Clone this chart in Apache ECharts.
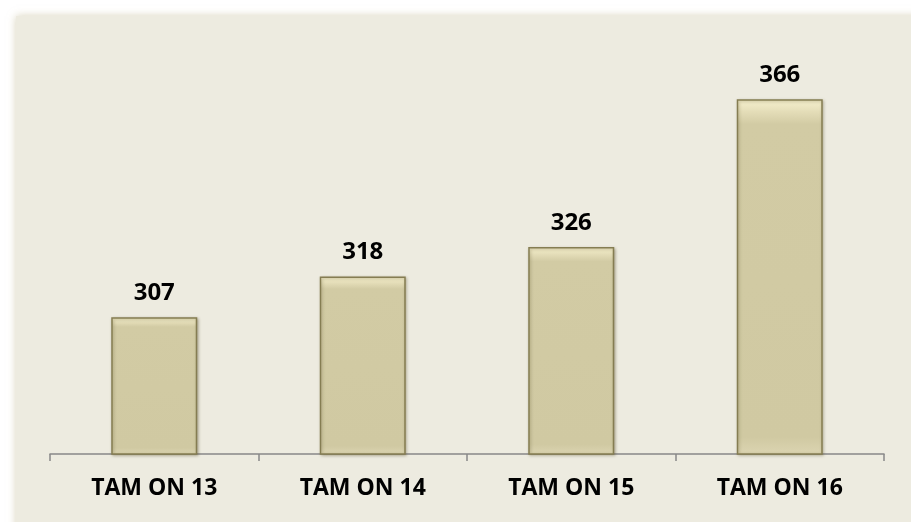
<!DOCTYPE html>
<html>
<head>
<meta charset="utf-8">
<script src="https://cdn.jsdelivr.net/npm/echarts@6/dist/echarts.min.js"></script>
<style>
html,body{margin:0;padding:0;background:#ffffff;}
#c{width:911px;height:522px;}
</style>
</head>
<body>
<div id="c"></div>
<script>
var categories = ['TAM ON 13', 'TAM ON 14', 'TAM ON 15', 'TAM ON 16'];
var values = [307, 318, 326, 366];

var chart = echarts.init(document.getElementById('c'));
chart.setOption({
  animation: false,
  backgroundColor: '#ffffff',
  graphic: [{
    type: 'rect',
    z: -10,
    silent: true,
    shape: { x: 16, y: 16, width: 920, height: 540 },
    style: { fill: '#EDEBE0', shadowBlur: 8, shadowColor: 'rgba(190,180,140,0.6)' }
  }],
  grid: { left: 50, right: 27, top: 47.5, bottom: 68 },
  xAxis: {
    type: 'category',
    data: categories,
    axisLine: { lineStyle: { color: '#888888', width: 1.5 } },
    axisTick: { show: true, length: 7, lineStyle: { color: '#888888', width: 1.5 } },
    axisLabel: {
      color: '#000000', fontFamily: 'Open Sans', fontWeight: 'bold', fontSize: 23, margin: 23
    }
  },
  yAxis: {
    type: 'value', min: 270, max: 380,
    show: false, splitLine: { show: false }
  },
  series: [{
    type: 'bar',
    data: values,
    barWidth: 86,
    itemStyle: {
      color: {
        type: 'linear', x: 0, y: 0, x2: 0, y2: 1,
        colorStops: [
          { offset: 0, color: '#F7F2CF' },
          { offset: 0.035, color: '#E4DDB8' },
          { offset: 0.07, color: '#D2CBA4' },
          { offset: 0.95, color: '#D0C9A2' },
          { offset: 1, color: '#DCD5B2' }
        ]
      },
      borderColor: '#857D52',
      borderWidth: 1.5,
      shadowBlur: 3,
      shadowColor: 'rgba(80,70,30,0.35)',
      shadowOffsetX: 1,
      shadowOffsetY: 1
    },
    label: {
      show: true, position: 'top', distance: 12,
      color: '#000000', fontFamily: 'Open Sans', fontWeight: 'bold', fontSize: 24
    }
  }]
});
</script>
</body>
</html>
